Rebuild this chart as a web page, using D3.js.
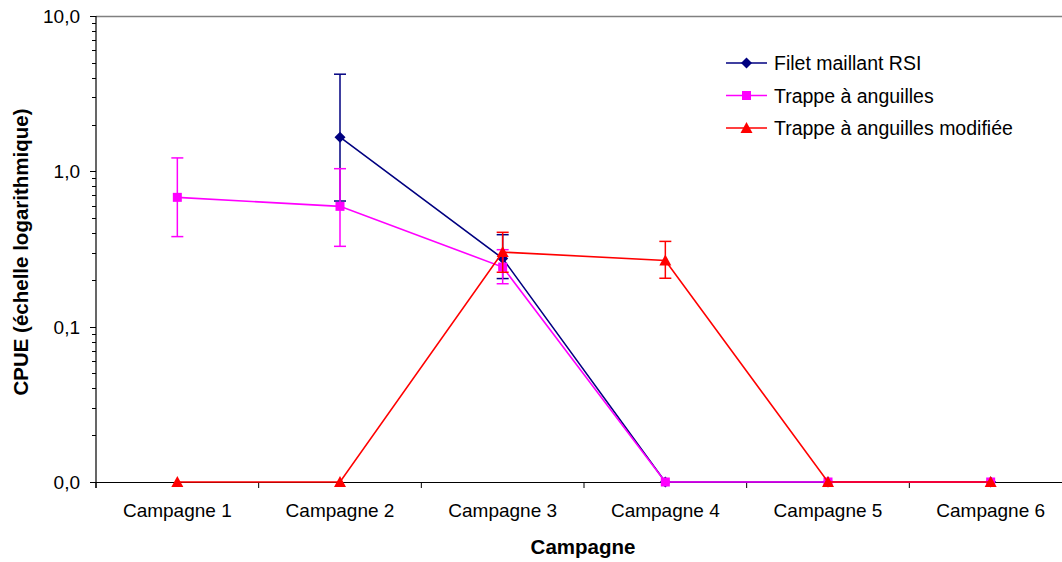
<!DOCTYPE html>
<html><head><meta charset="utf-8">
<script src="https://cdn.jsdelivr.net/npm/d3@7"></script>
<style>body{margin:0;background:#fff;}svg{display:block;font-family:"Liberation Sans",Arial,sans-serif;}</style>
</head><body><svg id="c" width="1062" height="562"></svg>
<script>
const categories = ["Campagne 1","Campagne 2","Campagne 3","Campagne 4","Campagne 5","Campagne 6"];
const seriesNames = ["Filet maillant RSI","Trappe à anguilles","Trappe à anguilles modifiée"];
const filetValues = [null, 1.66, 0.275, 0, 0, 0];
const filetLow    = [null, 0.644, 0.204, null, null, null];
const filetHigh   = [null, 4.22, 0.391, null, null, null];
const trappeValues = [0.68, 0.595, 0.242, 0, 0, 0];
const trappeLow    = [0.38, 0.329, 0.189, null, null, null];
const trappeHigh   = [1.22, 1.04, 0.313, null, null, null];
const modValues = [0, 0, 0.302, 0.267, 0, 0];
const modLow    = [null, null, 0.224, 0.205, null, null];
const modHigh   = [null, null, 0.405, 0.354, null, null];
const yTickValues = [0.01, 0.1, 1, 10];
const yTickLabels = ["0,0","0,1","1,0","10,0"];

const svg = d3.select("#c");
const L = 96, R = 1072, T = 16, B = 482;
const x = d3.scaleBand().domain(categories).range([L, R]);
const y = d3.scaleLog().domain([0.01, 10]).range([B, T]);
const yv = v => y(Math.max(v, 0.01));

// top border
svg.append("line").attr("x1", L).attr("x2", R).attr("y1", T+0.5).attr("y2", T+0.5).attr("stroke", "#808080").attr("stroke-width", 1.5);

// y axis
const minor = [];
[0.01, 0.1, 1].forEach(d => { for (let k = 2; k <= 9; k++) minor.push(d*k); });
const ya = svg.append("g");
ya.append("line").attr("x1", L).attr("x2", L).attr("y1", T).attr("y2", B+6).attr("stroke", "#000").attr("stroke-width", 1.2);
ya.selectAll(".mn").data(minor).join("line").attr("x1", L-4).attr("x2", L).attr("y1", d => Math.round(y(d))+0.5).attr("y2", d => Math.round(y(d))+0.5).attr("stroke", "#000");
ya.selectAll(".mj").data(yTickValues).join("line").attr("x1", L-6).attr("x2", L).attr("y1", d => Math.round(y(d))+0.5).attr("y2", d => Math.round(y(d))+0.5).attr("stroke", "#000");
ya.selectAll("text").data(yTickValues).join("text").attr("x", 80).attr("y", d => y(d)+7).attr("text-anchor", "end").attr("font-size", 19).text((d,i) => yTickLabels[i]);

// x axis
const xa = svg.append("g");
xa.append("line").attr("x1", L).attr("x2", R).attr("y1", B+0.5).attr("y2", B+0.5).attr("stroke", "#000").attr("stroke-width", 1.2);
const bounds = categories.map(c => x(c)).concat([R]);
xa.selectAll(".tk").data(bounds).join("line").attr("x1", d => d).attr("x2", d => d).attr("y1", B).attr("y2", B+6).attr("stroke", "#000");
xa.selectAll("text").data(categories).join("text").attr("x", d => x(d)+x.bandwidth()/2).attr("y", 517).attr("text-anchor", "middle").attr("font-size", 19).text(d => d);

// axis titles
svg.append("text").attr("x", 583).attr("y", 554).attr("text-anchor", "middle").attr("font-size", 20.5).attr("font-weight", "bold").text("Campagne");
svg.append("text").attr("transform", "translate(28,252) rotate(-90)").attr("text-anchor", "middle").attr("font-size", 20.5).attr("font-weight", "bold").text("CPUE (échelle logarithmique)");

const cx = c => x(c) + x.bandwidth()/2;
const series = [
  {name: seriesNames[0], vals: filetValues, lo: filetLow, hi: filetHigh, color: "#000080", shape: "diamond"},
  {name: seriesNames[1], vals: trappeValues, lo: trappeLow, hi: trappeHigh, color: "#FF00FF", shape: "square"},
  {name: seriesNames[2], vals: modValues, lo: modLow, hi: modHigh, color: "#FF0000", shape: "triangle"}
];
function marker(g, shape, color, px, py) {
  if (shape === "diamond") g.append("path").attr("d", `M${px},${py-5.5}L${px+5.5},${py}L${px},${py+5.5}L${px-5.5},${py}Z`).attr("fill", color);
  else if (shape === "square") g.append("rect").attr("x", px-4.5).attr("y", py-4.5).attr("width", 9).attr("height", 9).attr("fill", color);
  else g.append("path").attr("d", `M${px},${py-6}L${px+6},${py+5}L${px-6},${py+5}Z`).attr("fill", color);
}
series.forEach(s => {
  const g = svg.append("g");
  const pts = categories.map((c, i) => ({c, v: s.vals[i], lo: s.lo[i], hi: s.hi[i]})).filter(p => p.v !== null);
  pts.filter(p => p.lo !== null).forEach(p => {
    const px = cx(p.c);
    g.append("line").attr("x1", px).attr("x2", px).attr("y1", yv(p.lo)).attr("y2", yv(p.hi)).attr("stroke", s.color).attr("stroke-width", 1.5);
    [p.lo, p.hi].forEach(e => g.append("line").attr("x1", px-6).attr("x2", px+6).attr("y1", yv(e)).attr("y2", yv(e)).attr("stroke", s.color).attr("stroke-width", 1.5));
  });
  g.append("path").datum(pts).attr("fill", "none").attr("stroke", s.color).attr("stroke-width", 1.6)
    .attr("d", d3.line().x(p => cx(p.c)).y(p => yv(p.v)));
  pts.forEach(p => marker(g, s.shape, s.color, cx(p.c), yv(p.v)));
});

// legend
const lg = svg.append("g");
series.forEach((s, i) => {
  const ly = 63 + i*32.5;
  lg.append("line").attr("x1", 726).attr("x2", 767).attr("y1", ly).attr("y2", ly).attr("stroke", s.color).attr("stroke-width", 1.6);
  marker(lg, s.shape, s.color, 746.5, ly);
  lg.append("text").attr("x", 774).attr("y", ly+7).attr("font-size", 19.5).text(s.name);
});
</script></body></html>
